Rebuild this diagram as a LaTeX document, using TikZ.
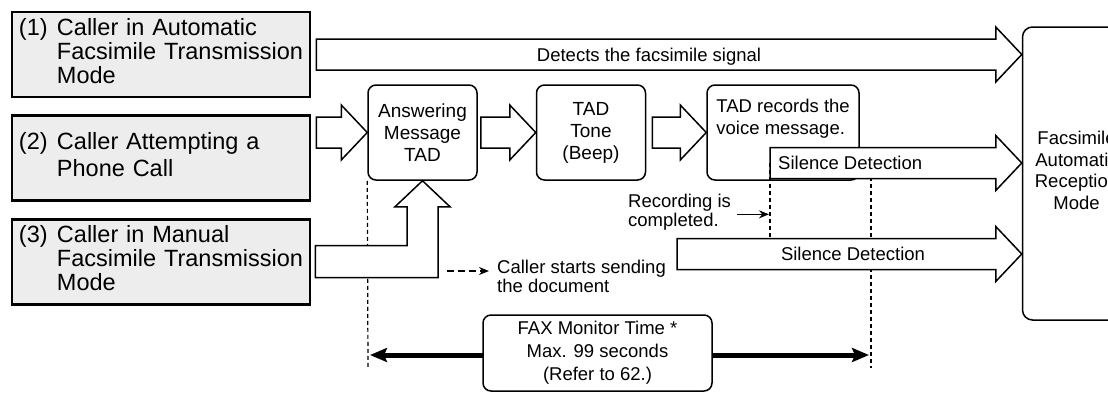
\documentclass[tikz,border=0pt]{standalone}
\usepackage{fontspec}
\setmainfont{Liberation Sans}
\usetikzlibrary{positioning, calc, arrows.meta}

%% hollow block arrow from a start point to a tip point (same height)
\newcommand{\hollowarrow}[2]{%
  \draw[hollow] let \p1=(#1), \p2=(#2) in
    (\x1,\y1+15.5pt) -- (\x2-26pt,\y1+15.5pt) -- (\x2-26pt,\y1+27.5pt)
    -- (\x2,\y1) -- (\x2-26pt,\y1-27.5pt) -- (\x2-26pt,\y1-15.5pt)
    -- (\x1,\y1-15.5pt) -- cycle;}

\begin{document}
\begin{tikzpicture}[
        x=1pt, y=-1pt,
        callerbox/.style={rectangle, draw, line width=2.6pt, fill=gray!14,
                          minimum height=85pt, text width=284pt, inner xsep=7pt,
                          inner ysep=0pt, align=left,
                          font=\fontsize{23.5}{24}\selectfont},
        tadbox/.style={rectangle, draw, line width=1.5pt, rounded corners=8pt,
                       fill=white, minimum width=109pt, minimum height=95pt,
                       align=center, font=\fontsize{19}{22}\selectfont},
        smalltext/.style={inner sep=0pt, font=\fontsize{18.5}{19}\selectfont},
        hollow/.style={draw, line width=1.5pt, fill=white, line join=miter},
        dashline/.style={line width=1.2pt, dash pattern=on 4pt off 3pt},
        thinarrow/.style={-{Stealth[length=10pt, width=8pt]}, line width=1.3pt},
        fatarrow/.style={{Stealth[length=17pt, width=14pt, inset=3pt]}-{Stealth[length=17pt, width=14pt, inset=3pt]},
                         line width=5pt}
    ]
    \useasboundingbox (0,0) rectangle (1108,392);
    \clip (0,0) rectangle (1108,392);

    %% CALLERS
    \node[callerbox] (caller1) at (161,54.5)
         {\makebox[38pt][l]{(1)}\begin{tabular}[t]{@{}l@{}}Caller in Automatic\\
          Facsimile Transmission\\Mode\end{tabular}};
    \node[callerbox, below=16pt of caller1] (caller2)
         {\makebox[38pt][l]{(2)}\begin{tabular}[t]{@{}l@{}}Caller Attempting a\\[3pt]
          Phone Call\end{tabular}};
    \node[callerbox, below=16pt of caller2] (caller3)
         {\makebox[38pt][l]{(3)}\begin{tabular}[t]{@{}l@{}}Caller in Manual\\
          Facsimile Transmission\\Mode\end{tabular}};

    %% TAD STEPS
    \node[tadbox] (answer) at (422.5,132.5) {Answering\\Message\\TAD};
    \node[tadbox, right=58pt of answer] (beep) {TAD\\Tone\\(Beep)};
    \node[tadbox, right=60pt of beep, minimum width=152pt] (record) {};
    \node[smalltext, align=left, anchor=north west, font=\fontsize{18.5}{22}\selectfont]
         (recordtxt) at ($(record.north west)+(10,15)$) {TAD records the\\voice message.};

    %% RECEPTION MODE
    \node[tadbox, rounded corners=10pt, minimum width=108pt, minimum height=293pt,
          font=\fontsize{18.5}{21.5}\selectfont] (recv) at (1076.5,173.5) {};
    \node[smalltext, align=center, font=\fontsize{18.5}{21.5}\selectfont]
         (recvtxt) at ($(recv.center)+(0,-3)$) {Facsimile\\Automatic\\Reception\\Mode};

    %% marks on the time line
    \coordinate (recdone)  at (770,163);
    \coordinate (faxstart) at (677,254);
    \coordinate (monL)     at (368,355);
    \coordinate (monR)     at (871,355);
    \coordinate (sendstart) at (447,271);

    \draw[dashline] (answer.south west) -- ($(monL)+(0,13)$);
    \draw[dashline] (recdone) -- (recdone |- faxstart);
    \draw[dashline] (recdone -| monR) -- ($(monR)+(0,13)$);

    %% BLOCK ARROWS
    \hollowarrow{$(caller1.east)+(5,0)$}{caller1.east -| recv.west}
    \hollowarrow{$(caller2.east |- answer.west)+(5,0)$}{answer.west}
    \hollowarrow{$(answer.east)+(3,0)$}{beep.west}
    \hollowarrow{$(beep.east)+(6,0)$}{record.west}
    \hollowarrow{recdone}{recdone -| recv.west}
    \hollowarrow{faxstart}{faxstart -| recv.west}
    \draw[hollow] let \p1=($(caller3.east)+(4,0)$), \p2=(answer.south) in
        (\x1,\y1+16pt) -- (\x2-15.5pt,\y1+16pt) -- (\x2-15.5pt,\y2-26pt)
        -- (\x2-27.5pt,\y2-26pt) -- (\x2,\y2) -- (\x2+27.5pt,\y2-26pt)
        -- (\x2+15.5pt,\y2-26pt) -- (\x2+15.5pt,\y1-16pt) -- (\x1,\y1-16pt) -- cycle;

    \node[smalltext] (signal) at (649,57) {Detects the facsimile signal};
    \node[smalltext, anchor=west] (silence1) at ($(recdone)+(8,0)$) {Silence Detection};
    \node[smalltext] (silence2) at (853,254) {Silence Detection};

    %% NOTES
    \node[smalltext, align=left, anchor=north west] (rectxt) at (628,194)
         {Recording is\\completed.};
    \draw[thinarrow] ($(rectxt.east)+(6,2)$) -- ($(rectxt.east -| recdone)+(-1,2)$);
    \node[smalltext, align=left, anchor=north west] (sendtxt) at (497,260)
         {Caller starts sending\\the document};
    \draw[thinarrow, dash pattern=on 7pt off 4pt] (sendstart) -- ($(sendstart -| sendtxt.west)+(-8,0)$);

    %% FAX MONITOR TIME
    \draw[fatarrow] ($(monL)+(2,0)$) -- ($(monR)+(-2,0)$);
    \node[tadbox, minimum width=229pt, minimum height=76pt,
          font=\fontsize{18.5}{23}\selectfont] (monitor) at (597.5,353)
         {FAX Monitor Time *\\Max. 99 seconds\\(Refer to 62.)};

\end{tikzpicture}
\end{document}
